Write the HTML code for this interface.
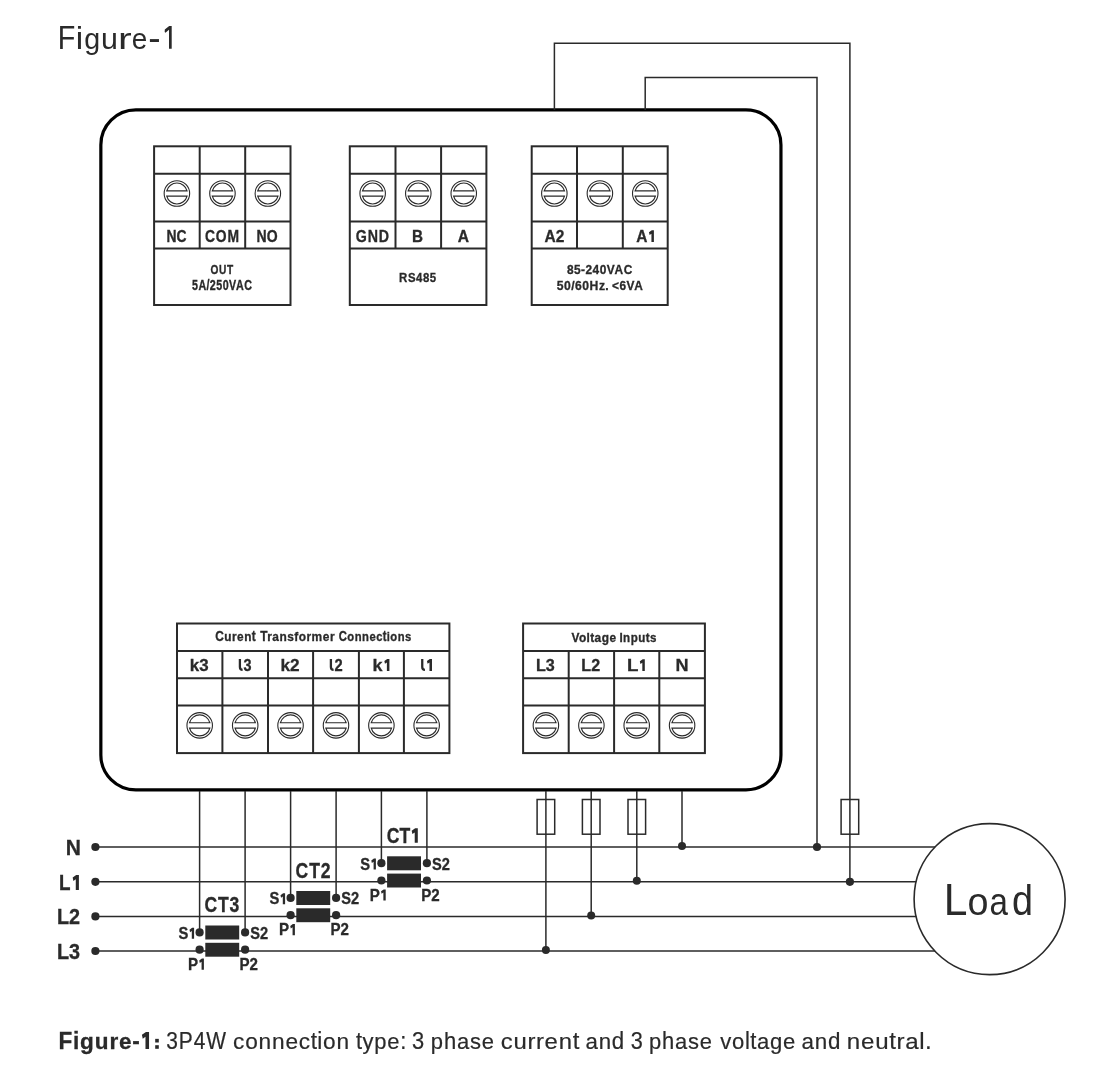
<!DOCTYPE html>
<html><head><meta charset="utf-8"><title>Figure-1</title>
<style>html,body{margin:0;padding:0;background:#fff;width:1106px;height:1088px;overflow:hidden}
svg{position:absolute;left:0;top:0;display:block;will-change:transform}
text{font-family:"Liberation Sans",sans-serif}</style></head>
<body><svg width="1106" height="1088" viewBox="0 0 1106 1088">
<rect x="100.85" y="109.9" width="680.1" height="680.0" rx="35" ry="35" fill="none" stroke="#000" stroke-width="3.2"/>
<rect x="154.1" y="146.3" width="136.40" height="158.70" fill="none" stroke="#2a2a2a" stroke-width="2.0"/>
<line x1="154.1" y1="173.7" x2="290.5" y2="173.7" stroke="#2a2a2a" stroke-width="2.0"/>
<line x1="154.1" y1="221.4" x2="290.5" y2="221.4" stroke="#2a2a2a" stroke-width="2.0"/>
<line x1="154.1" y1="248.6" x2="290.5" y2="248.6" stroke="#2a2a2a" stroke-width="2.0"/>
<line x1="199.7" y1="146.3" x2="199.7" y2="248.6" stroke="#2a2a2a" stroke-width="2.0"/>
<line x1="245.2" y1="146.3" x2="245.2" y2="248.6" stroke="#2a2a2a" stroke-width="2.0"/>
<circle cx="176.90" cy="193.50" r="12.75" fill="none" stroke="#2a2a2a" stroke-width="1.1"/><path d="M166.74 190.85A10.5 10.5 0 0 1 187.06 190.85ZM166.74 196.15A10.5 10.5 0 0 0 187.06 196.15Z" fill="none" stroke="#2a2a2a" stroke-width="1.15"/>
<circle cx="222.45" cy="193.50" r="12.75" fill="none" stroke="#2a2a2a" stroke-width="1.1"/><path d="M212.29 190.85A10.5 10.5 0 0 1 232.61 190.85ZM212.29 196.15A10.5 10.5 0 0 0 232.61 196.15Z" fill="none" stroke="#2a2a2a" stroke-width="1.15"/>
<circle cx="267.85" cy="193.50" r="12.75" fill="none" stroke="#2a2a2a" stroke-width="1.1"/><path d="M257.69 190.85A10.5 10.5 0 0 1 278.01 190.85ZM257.69 196.15A10.5 10.5 0 0 0 278.01 196.15Z" fill="none" stroke="#2a2a2a" stroke-width="1.15"/>
<rect x="349.8" y="146.3" width="136.60" height="158.70" fill="none" stroke="#2a2a2a" stroke-width="2.0"/>
<line x1="349.8" y1="173.7" x2="486.4" y2="173.7" stroke="#2a2a2a" stroke-width="2.0"/>
<line x1="349.8" y1="221.4" x2="486.4" y2="221.4" stroke="#2a2a2a" stroke-width="2.0"/>
<line x1="349.8" y1="248.6" x2="486.4" y2="248.6" stroke="#2a2a2a" stroke-width="2.0"/>
<line x1="395.5" y1="146.3" x2="395.5" y2="248.6" stroke="#2a2a2a" stroke-width="2.0"/>
<line x1="441.1" y1="146.3" x2="441.1" y2="248.6" stroke="#2a2a2a" stroke-width="2.0"/>
<circle cx="372.65" cy="193.50" r="12.75" fill="none" stroke="#2a2a2a" stroke-width="1.1"/><path d="M362.49 190.85A10.5 10.5 0 0 1 382.81 190.85ZM362.49 196.15A10.5 10.5 0 0 0 382.81 196.15Z" fill="none" stroke="#2a2a2a" stroke-width="1.15"/>
<circle cx="418.30" cy="193.50" r="12.75" fill="none" stroke="#2a2a2a" stroke-width="1.1"/><path d="M408.14 190.85A10.5 10.5 0 0 1 428.46 190.85ZM408.14 196.15A10.5 10.5 0 0 0 428.46 196.15Z" fill="none" stroke="#2a2a2a" stroke-width="1.15"/>
<circle cx="463.75" cy="193.50" r="12.75" fill="none" stroke="#2a2a2a" stroke-width="1.1"/><path d="M453.59 190.85A10.5 10.5 0 0 1 473.91 190.85ZM453.59 196.15A10.5 10.5 0 0 0 473.91 196.15Z" fill="none" stroke="#2a2a2a" stroke-width="1.15"/>
<rect x="531.7" y="146.3" width="136.00" height="158.70" fill="none" stroke="#2a2a2a" stroke-width="2.0"/>
<line x1="531.7" y1="173.7" x2="667.7" y2="173.7" stroke="#2a2a2a" stroke-width="2.0"/>
<line x1="531.7" y1="221.4" x2="667.7" y2="221.4" stroke="#2a2a2a" stroke-width="2.0"/>
<line x1="531.7" y1="248.6" x2="667.7" y2="248.6" stroke="#2a2a2a" stroke-width="2.0"/>
<line x1="577.0" y1="146.3" x2="577.0" y2="248.6" stroke="#2a2a2a" stroke-width="2.0"/>
<line x1="622.8" y1="146.3" x2="622.8" y2="248.6" stroke="#2a2a2a" stroke-width="2.0"/>
<circle cx="554.35" cy="193.50" r="12.75" fill="none" stroke="#2a2a2a" stroke-width="1.1"/><path d="M544.19 190.85A10.5 10.5 0 0 1 564.51 190.85ZM544.19 196.15A10.5 10.5 0 0 0 564.51 196.15Z" fill="none" stroke="#2a2a2a" stroke-width="1.15"/>
<circle cx="599.90" cy="193.50" r="12.75" fill="none" stroke="#2a2a2a" stroke-width="1.1"/><path d="M589.74 190.85A10.5 10.5 0 0 1 610.06 190.85ZM589.74 196.15A10.5 10.5 0 0 0 610.06 196.15Z" fill="none" stroke="#2a2a2a" stroke-width="1.15"/>
<circle cx="645.25" cy="193.50" r="12.75" fill="none" stroke="#2a2a2a" stroke-width="1.1"/><path d="M635.09 190.85A10.5 10.5 0 0 1 655.41 190.85ZM635.09 196.15A10.5 10.5 0 0 0 655.41 196.15Z" fill="none" stroke="#2a2a2a" stroke-width="1.15"/>
<rect x="177.0" y="623.5" width="272.40" height="129.60" fill="none" stroke="#2a2a2a" stroke-width="2.0"/>
<line x1="177.0" y1="651.0" x2="449.4" y2="651.0" stroke="#2a2a2a" stroke-width="2.0"/>
<line x1="177.0" y1="678.2" x2="449.4" y2="678.2" stroke="#2a2a2a" stroke-width="2.0"/>
<line x1="177.0" y1="705.6" x2="449.4" y2="705.6" stroke="#2a2a2a" stroke-width="2.0"/>
<line x1="222.4" y1="651.0" x2="222.4" y2="753.1" stroke="#2a2a2a" stroke-width="2.0"/>
<line x1="268.0" y1="651.0" x2="268.0" y2="753.1" stroke="#2a2a2a" stroke-width="2.0"/>
<line x1="313.1" y1="651.0" x2="313.1" y2="753.1" stroke="#2a2a2a" stroke-width="2.0"/>
<line x1="358.9" y1="651.0" x2="358.9" y2="753.1" stroke="#2a2a2a" stroke-width="2.0"/>
<line x1="403.9" y1="651.0" x2="403.9" y2="753.1" stroke="#2a2a2a" stroke-width="2.0"/>
<circle cx="199.70" cy="725.40" r="12.75" fill="none" stroke="#2a2a2a" stroke-width="1.1"/><path d="M189.54 722.75A10.5 10.5 0 0 1 209.86 722.75ZM189.54 728.05A10.5 10.5 0 0 0 209.86 728.05Z" fill="none" stroke="#2a2a2a" stroke-width="1.15"/>
<circle cx="245.20" cy="725.40" r="12.75" fill="none" stroke="#2a2a2a" stroke-width="1.1"/><path d="M235.04 722.75A10.5 10.5 0 0 1 255.36 722.75ZM235.04 728.05A10.5 10.5 0 0 0 255.36 728.05Z" fill="none" stroke="#2a2a2a" stroke-width="1.15"/>
<circle cx="290.55" cy="725.40" r="12.75" fill="none" stroke="#2a2a2a" stroke-width="1.1"/><path d="M280.39 722.75A10.5 10.5 0 0 1 300.71 722.75ZM280.39 728.05A10.5 10.5 0 0 0 300.71 728.05Z" fill="none" stroke="#2a2a2a" stroke-width="1.15"/>
<circle cx="336.00" cy="725.40" r="12.75" fill="none" stroke="#2a2a2a" stroke-width="1.1"/><path d="M325.84 722.75A10.5 10.5 0 0 1 346.16 722.75ZM325.84 728.05A10.5 10.5 0 0 0 346.16 728.05Z" fill="none" stroke="#2a2a2a" stroke-width="1.15"/>
<circle cx="381.40" cy="725.40" r="12.75" fill="none" stroke="#2a2a2a" stroke-width="1.1"/><path d="M371.24 722.75A10.5 10.5 0 0 1 391.56 722.75ZM371.24 728.05A10.5 10.5 0 0 0 391.56 728.05Z" fill="none" stroke="#2a2a2a" stroke-width="1.15"/>
<circle cx="426.65" cy="725.40" r="12.75" fill="none" stroke="#2a2a2a" stroke-width="1.1"/><path d="M416.49 722.75A10.5 10.5 0 0 1 436.81 722.75ZM416.49 728.05A10.5 10.5 0 0 0 436.81 728.05Z" fill="none" stroke="#2a2a2a" stroke-width="1.15"/>
<rect x="523.1" y="623.5" width="181.80" height="129.60" fill="none" stroke="#2a2a2a" stroke-width="2.0"/>
<line x1="523.1" y1="651.0" x2="704.9" y2="651.0" stroke="#2a2a2a" stroke-width="2.0"/>
<line x1="523.1" y1="678.2" x2="704.9" y2="678.2" stroke="#2a2a2a" stroke-width="2.0"/>
<line x1="523.1" y1="705.6" x2="704.9" y2="705.6" stroke="#2a2a2a" stroke-width="2.0"/>
<line x1="568.7" y1="651.0" x2="568.7" y2="753.1" stroke="#2a2a2a" stroke-width="2.0"/>
<line x1="614.1" y1="651.0" x2="614.1" y2="753.1" stroke="#2a2a2a" stroke-width="2.0"/>
<line x1="659.3" y1="651.0" x2="659.3" y2="753.1" stroke="#2a2a2a" stroke-width="2.0"/>
<circle cx="545.90" cy="725.40" r="12.75" fill="none" stroke="#2a2a2a" stroke-width="1.1"/><path d="M535.74 722.75A10.5 10.5 0 0 1 556.06 722.75ZM535.74 728.05A10.5 10.5 0 0 0 556.06 728.05Z" fill="none" stroke="#2a2a2a" stroke-width="1.15"/>
<circle cx="591.40" cy="725.40" r="12.75" fill="none" stroke="#2a2a2a" stroke-width="1.1"/><path d="M581.24 722.75A10.5 10.5 0 0 1 601.56 722.75ZM581.24 728.05A10.5 10.5 0 0 0 601.56 728.05Z" fill="none" stroke="#2a2a2a" stroke-width="1.15"/>
<circle cx="636.70" cy="725.40" r="12.75" fill="none" stroke="#2a2a2a" stroke-width="1.1"/><path d="M626.54 722.75A10.5 10.5 0 0 1 646.86 722.75ZM626.54 728.05A10.5 10.5 0 0 0 646.86 728.05Z" fill="none" stroke="#2a2a2a" stroke-width="1.15"/>
<circle cx="682.10" cy="725.40" r="12.75" fill="none" stroke="#2a2a2a" stroke-width="1.1"/><path d="M671.94 722.75A10.5 10.5 0 0 1 692.26 722.75ZM671.94 728.05A10.5 10.5 0 0 0 692.26 728.05Z" fill="none" stroke="#2a2a2a" stroke-width="1.15"/>
<polyline points="554.4,110 554.4,43.2 849.9,43.2 849.9,881.8" fill="none" stroke="#2a2a2a" stroke-width="1.5"/>
<polyline points="645.2,110 645.2,77.4 817.0,77.4 817.0,847.0" fill="none" stroke="#2a2a2a" stroke-width="1.5"/>
<rect x="841.10" y="799.5" width="17.6" height="34.70" fill="none" stroke="#2a2a2a" stroke-width="1.5"/>
<circle cx="849.9" cy="881.8" r="4.1" fill="#2a2a2a"/>
<circle cx="817.0" cy="847.0" r="4.1" fill="#2a2a2a"/>
<line x1="95.4" y1="847.0" x2="990" y2="847.0" stroke="#2a2a2a" stroke-width="1.5"/>
<circle cx="95.4" cy="847.0" r="4.1" fill="#2a2a2a"/>
<line x1="95.4" y1="881.8" x2="990" y2="881.8" stroke="#2a2a2a" stroke-width="1.5"/>
<circle cx="95.4" cy="881.8" r="4.1" fill="#2a2a2a"/>
<line x1="95.4" y1="916.4" x2="990" y2="916.4" stroke="#2a2a2a" stroke-width="1.5"/>
<circle cx="95.4" cy="916.4" r="4.1" fill="#2a2a2a"/>
<line x1="95.4" y1="951.0" x2="990" y2="951.0" stroke="#2a2a2a" stroke-width="1.5"/>
<circle cx="95.4" cy="951.0" r="4.1" fill="#2a2a2a"/>
<line x1="545.9" y1="791" x2="545.9" y2="951.0" stroke="#2a2a2a" stroke-width="1.5"/>
<rect x="537.10" y="799.5" width="17.6" height="34.70" fill="none" stroke="#2a2a2a" stroke-width="1.5"/>
<circle cx="545.9" cy="950.0" r="4.0" fill="#2a2a2a"/>
<line x1="591.2" y1="791" x2="591.2" y2="916.4" stroke="#2a2a2a" stroke-width="1.5"/>
<rect x="582.40" y="799.5" width="17.6" height="34.70" fill="none" stroke="#2a2a2a" stroke-width="1.5"/>
<circle cx="591.2" cy="915.4" r="4.0" fill="#2a2a2a"/>
<line x1="636.8" y1="791" x2="636.8" y2="881.8" stroke="#2a2a2a" stroke-width="1.5"/>
<rect x="628.00" y="799.5" width="17.6" height="34.70" fill="none" stroke="#2a2a2a" stroke-width="1.5"/>
<circle cx="636.8" cy="880.8" r="4.0" fill="#2a2a2a"/>
<line x1="682.0" y1="791" x2="682.0" y2="847.0" stroke="#2a2a2a" stroke-width="1.5"/>
<circle cx="682.0" cy="846.0" r="4.0" fill="#2a2a2a"/>
<line x1="381.4" y1="791" x2="381.4" y2="863.1999999999999" stroke="#2a2a2a" stroke-width="1.5"/>
<line x1="426.9" y1="791" x2="426.9" y2="863.1999999999999" stroke="#2a2a2a" stroke-width="1.5"/>
<circle cx="381.4" cy="863.1999999999999" r="4.1" fill="#2a2a2a"/>
<circle cx="426.9" cy="863.1999999999999" r="4.1" fill="#2a2a2a"/>
<circle cx="381.4" cy="880.5" r="4.1" fill="#2a2a2a"/>
<circle cx="426.9" cy="880.5" r="4.1" fill="#2a2a2a"/>
<rect x="387.10" y="856.30" width="33.9" height="14.0" fill="#2a2a2a"/>
<rect x="387.10" y="873.60" width="33.9" height="13.9" fill="#2a2a2a"/>
<line x1="290.6" y1="791" x2="290.6" y2="897.9" stroke="#2a2a2a" stroke-width="1.5"/>
<line x1="336.1" y1="791" x2="336.1" y2="897.9" stroke="#2a2a2a" stroke-width="1.5"/>
<circle cx="290.6" cy="897.9" r="4.1" fill="#2a2a2a"/>
<circle cx="336.1" cy="897.9" r="4.1" fill="#2a2a2a"/>
<circle cx="290.6" cy="915.2" r="4.1" fill="#2a2a2a"/>
<circle cx="336.1" cy="915.2" r="4.1" fill="#2a2a2a"/>
<rect x="296.30" y="891.00" width="33.9" height="14.0" fill="#2a2a2a"/>
<rect x="296.30" y="908.30" width="33.9" height="13.9" fill="#2a2a2a"/>
<line x1="199.6" y1="791" x2="199.6" y2="932.4" stroke="#2a2a2a" stroke-width="1.5"/>
<line x1="245.1" y1="791" x2="245.1" y2="932.4" stroke="#2a2a2a" stroke-width="1.5"/>
<circle cx="199.6" cy="932.4" r="4.1" fill="#2a2a2a"/>
<circle cx="245.1" cy="932.4" r="4.1" fill="#2a2a2a"/>
<circle cx="199.6" cy="949.7" r="4.1" fill="#2a2a2a"/>
<circle cx="245.1" cy="949.7" r="4.1" fill="#2a2a2a"/>
<rect x="205.30" y="925.50" width="33.9" height="14.0" fill="#2a2a2a"/>
<rect x="205.30" y="942.80" width="33.9" height="13.9" fill="#2a2a2a"/>
<circle cx="989.6" cy="899.1" r="75.5" fill="#fff" stroke="#2a2a2a" stroke-width="1.6"/>
<text transform="matrix(0.13881 0 0 0.16957 166.428 242.000)" font-size="100" font-weight="700" fill="#2a2a2a" stroke="#2a2a2a" stroke-width="1.96">NC</text>
<text transform="matrix(0.13880 0 0 0.16957 205.045 242.000)" font-size="100" font-weight="700" fill="#2a2a2a" stroke="#2a2a2a" stroke-width="1.96">C</text>
<text transform="matrix(0.13880 0 0 0.16957 215.842 242.000)" font-size="100" font-weight="700" fill="#2a2a2a" stroke="#2a2a2a" stroke-width="1.96">O</text>
<text transform="matrix(0.13880 0 0 0.16957 227.482 242.000)" font-size="100" font-weight="700" fill="#2a2a2a" stroke="#2a2a2a" stroke-width="1.96">M</text>
<text transform="matrix(0.14029 0 0 0.16957 256.518 242.000)" font-size="100" font-weight="700" fill="#2a2a2a" stroke="#2a2a2a" stroke-width="1.95">NO</text>
<text transform="matrix(0.14206 0 0 0.16957 355.832 242.000)" font-size="100" font-weight="700" fill="#2a2a2a" stroke="#2a2a2a" stroke-width="1.93">G</text>
<text transform="matrix(0.14206 0 0 0.16957 367.695 242.000)" font-size="100" font-weight="700" fill="#2a2a2a" stroke="#2a2a2a" stroke-width="1.93">N</text>
<text transform="matrix(0.14206 0 0 0.16957 378.740 242.000)" font-size="100" font-weight="700" fill="#2a2a2a" stroke="#2a2a2a" stroke-width="1.93">D</text>
<text transform="matrix(0.15246 0 0 0.16957 411.933 242.000)" font-size="100" font-weight="700" fill="#2a2a2a" stroke="#2a2a2a" stroke-width="1.87">B</text>
<text transform="matrix(0.15606 0 0 0.16957 457.832 242.000)" font-size="100" font-weight="700" fill="#2a2a2a" stroke="#2a2a2a" stroke-width="1.84">A</text>
<text transform="matrix(0.15496 0 0 0.16957 544.535 242.000)" font-size="100" font-weight="700" fill="#2a2a2a" stroke="#2a2a2a" stroke-width="1.85">A2</text>
<text transform="matrix(0.15455 0 0 0.16957 636.336 242.000)" font-size="100" font-weight="700" fill="#2a2a2a" stroke="#2a2a2a" stroke-width="1.85">A</text>
<text transform="matrix(0.10154 0 0 0.13478 210.594 274.000)" font-size="100" font-weight="700" fill="#2a2a2a" stroke="#2a2a2a" stroke-width="2.56">O</text>
<text transform="matrix(0.10154 0 0 0.13478 219.065 274.000)" font-size="100" font-weight="700" fill="#2a2a2a" stroke="#2a2a2a" stroke-width="2.56">U</text>
<text transform="matrix(0.10154 0 0 0.13478 226.908 274.000)" font-size="100" font-weight="700" fill="#2a2a2a" stroke="#2a2a2a" stroke-width="2.56">T</text>
<text transform="matrix(0.10697 0 0 0.14058 191.979 290.300)" font-size="100" font-weight="700" fill="#2a2a2a" stroke="#2a2a2a" stroke-width="2.45">5</text>
<text transform="matrix(0.10697 0 0 0.14058 198.440 290.300)" font-size="100" font-weight="700" fill="#2a2a2a" stroke="#2a2a2a" stroke-width="2.45">A</text>
<text transform="matrix(0.10697 0 0 0.14058 206.570 290.300)" font-size="100" font-weight="700" fill="#2a2a2a" stroke="#2a2a2a" stroke-width="2.45">/</text>
<text transform="matrix(0.10697 0 0 0.14058 209.874 290.300)" font-size="100" font-weight="700" fill="#2a2a2a" stroke="#2a2a2a" stroke-width="2.45">2</text>
<text transform="matrix(0.10697 0 0 0.14058 216.274 290.300)" font-size="100" font-weight="700" fill="#2a2a2a" stroke="#2a2a2a" stroke-width="2.45">5</text>
<text transform="matrix(0.10697 0 0 0.14058 222.671 290.300)" font-size="100" font-weight="700" fill="#2a2a2a" stroke="#2a2a2a" stroke-width="2.45">0</text>
<text transform="matrix(0.10697 0 0 0.14058 229.113 290.300)" font-size="100" font-weight="700" fill="#2a2a2a" stroke="#2a2a2a" stroke-width="2.45">V</text>
<text transform="matrix(0.10697 0 0 0.14058 235.952 290.300)" font-size="100" font-weight="700" fill="#2a2a2a" stroke="#2a2a2a" stroke-width="2.45">A</text>
<text transform="matrix(0.10697 0 0 0.14058 244.265 290.300)" font-size="100" font-weight="700" fill="#2a2a2a" stroke="#2a2a2a" stroke-width="2.45">C</text>
<text transform="matrix(0.11440 0 0 0.13623 399.056 282.200)" font-size="100" font-weight="700" fill="#2a2a2a" stroke="#2a2a2a" stroke-width="2.40">R</text>
<text transform="matrix(0.11440 0 0 0.13623 407.893 282.200)" font-size="100" font-weight="700" fill="#2a2a2a" stroke="#2a2a2a" stroke-width="2.40">S</text>
<text transform="matrix(0.11440 0 0 0.13623 416.057 282.200)" font-size="100" font-weight="700" fill="#2a2a2a" stroke="#2a2a2a" stroke-width="2.40">4</text>
<text transform="matrix(0.11440 0 0 0.13623 422.895 282.200)" font-size="100" font-weight="700" fill="#2a2a2a" stroke="#2a2a2a" stroke-width="2.40">8</text>
<text transform="matrix(0.11440 0 0 0.13623 429.737 282.200)" font-size="100" font-weight="700" fill="#2a2a2a" stroke="#2a2a2a" stroke-width="2.40">5</text>
<text transform="matrix(0.11907 0 0 0.13623 566.943 273.900)" font-size="100" font-weight="700" fill="#2a2a2a" stroke="#2a2a2a" stroke-width="2.36">8</text>
<text transform="matrix(0.11907 0 0 0.13623 574.065 273.900)" font-size="100" font-weight="700" fill="#2a2a2a" stroke="#2a2a2a" stroke-width="2.36">5</text>
<text transform="matrix(0.11907 0 0 0.13623 581.084 273.900)" font-size="100" font-weight="700" fill="#2a2a2a" stroke="#2a2a2a" stroke-width="2.36">-</text>
<text transform="matrix(0.11907 0 0 0.13623 585.445 273.900)" font-size="100" font-weight="700" fill="#2a2a2a" stroke="#2a2a2a" stroke-width="2.36">2</text>
<text transform="matrix(0.11907 0 0 0.13623 592.572 273.900)" font-size="100" font-weight="700" fill="#2a2a2a" stroke="#2a2a2a" stroke-width="2.36">4</text>
<text transform="matrix(0.11907 0 0 0.13623 599.687 273.900)" font-size="100" font-weight="700" fill="#2a2a2a" stroke="#2a2a2a" stroke-width="2.36">0</text>
<text transform="matrix(0.11907 0 0 0.13623 606.861 273.900)" font-size="100" font-weight="700" fill="#2a2a2a" stroke="#2a2a2a" stroke-width="2.36">V</text>
<text transform="matrix(0.11907 0 0 0.13623 614.471 273.900)" font-size="100" font-weight="700" fill="#2a2a2a" stroke="#2a2a2a" stroke-width="2.36">A</text>
<text transform="matrix(0.11907 0 0 0.13623 623.725 273.900)" font-size="100" font-weight="700" fill="#2a2a2a" stroke="#2a2a2a" stroke-width="2.36">C</text>
<text transform="matrix(0.12170 0 0 0.13333 556.735 289.800)" font-size="100" font-weight="700" fill="#2a2a2a" stroke="#2a2a2a" stroke-width="2.36">5</text>
<text transform="matrix(0.12170 0 0 0.13333 564.009 289.800)" font-size="100" font-weight="700" fill="#2a2a2a" stroke="#2a2a2a" stroke-width="2.36">0</text>
<text transform="matrix(0.12170 0 0 0.13333 571.160 289.800)" font-size="100" font-weight="700" fill="#2a2a2a" stroke="#2a2a2a" stroke-width="2.36">/</text>
<text transform="matrix(0.12170 0 0 0.13333 574.922 289.800)" font-size="100" font-weight="700" fill="#2a2a2a" stroke="#2a2a2a" stroke-width="2.36">6</text>
<text transform="matrix(0.12170 0 0 0.13333 582.200 289.800)" font-size="100" font-weight="700" fill="#2a2a2a" stroke="#2a2a2a" stroke-width="2.36">0</text>
<text transform="matrix(0.12170 0 0 0.13333 589.553 289.800)" font-size="100" font-weight="700" fill="#2a2a2a" stroke="#2a2a2a" stroke-width="2.36">H</text>
<text transform="matrix(0.12170 0 0 0.11867 598.905 289.800)" font-size="100" font-weight="700" fill="#2a2a2a" stroke="#2a2a2a" stroke-width="2.50">z</text>
<text transform="matrix(0.12170 0 0 0.13333 605.344 289.800)" font-size="100" font-weight="700" fill="#2a2a2a" stroke="#2a2a2a" stroke-width="2.36">.</text>
<text transform="matrix(0.11889 0 0 0.13333 611.924 289.800)" font-size="100" font-weight="700" fill="#2a2a2a" stroke="#2a2a2a" stroke-width="2.38">&lt;</text>
<text transform="matrix(0.11889 0 0 0.13333 619.376 289.800)" font-size="100" font-weight="700" fill="#2a2a2a" stroke="#2a2a2a" stroke-width="2.38">6</text>
<text transform="matrix(0.11889 0 0 0.13333 626.536 289.800)" font-size="100" font-weight="700" fill="#2a2a2a" stroke="#2a2a2a" stroke-width="2.38">V</text>
<text transform="matrix(0.11889 0 0 0.13333 634.137 289.800)" font-size="100" font-weight="700" fill="#2a2a2a" stroke="#2a2a2a" stroke-width="2.38">A</text>
<text transform="matrix(0.11835 0 0 0.14058 215.227 641.200)" font-size="100" font-weight="700" fill="#2a2a2a" stroke="#2a2a2a" stroke-width="2.33">C</text>
<text transform="matrix(0.11835 0 0 0.12512 224.357 641.200)" font-size="100" font-weight="700" fill="#2a2a2a" stroke="#2a2a2a" stroke-width="2.47">u</text>
<text transform="matrix(0.11835 0 0 0.12512 232.059 641.200)" font-size="100" font-weight="700" fill="#2a2a2a" stroke="#2a2a2a" stroke-width="2.47">r</text>
<text transform="matrix(0.11835 0 0 0.12512 237.063 641.200)" font-size="100" font-weight="700" fill="#2a2a2a" stroke="#2a2a2a" stroke-width="2.47">e</text>
<text transform="matrix(0.11835 0 0 0.12512 244.167 641.200)" font-size="100" font-weight="700" fill="#2a2a2a" stroke="#2a2a2a" stroke-width="2.47">n</text>
<text transform="matrix(0.11835 0 0 0.14058 251.813 641.200)" font-size="100" font-weight="700" fill="#2a2a2a" stroke="#2a2a2a" stroke-width="2.33">t</text>
<text transform="matrix(0.11923 0 0 0.14058 260.181 641.200)" font-size="100" font-weight="700" fill="#2a2a2a" stroke="#2a2a2a" stroke-width="2.32">T</text>
<text transform="matrix(0.11923 0 0 0.12512 267.228 641.200)" font-size="100" font-weight="700" fill="#2a2a2a" stroke="#2a2a2a" stroke-width="2.46">r</text>
<text transform="matrix(0.11923 0 0 0.12512 272.283 641.200)" font-size="100" font-weight="700" fill="#2a2a2a" stroke="#2a2a2a" stroke-width="2.46">a</text>
<text transform="matrix(0.11923 0 0 0.12512 279.426 641.200)" font-size="100" font-weight="700" fill="#2a2a2a" stroke="#2a2a2a" stroke-width="2.46">n</text>
<text transform="matrix(0.11923 0 0 0.12512 287.227 641.200)" font-size="100" font-weight="700" fill="#2a2a2a" stroke="#2a2a2a" stroke-width="2.46">s</text>
<text transform="matrix(0.11923 0 0 0.13383 294.269 641.200)" font-size="100" font-weight="700" fill="#2a2a2a" stroke="#2a2a2a" stroke-width="2.37">f</text>
<text transform="matrix(0.11923 0 0 0.12512 298.655 641.200)" font-size="100" font-weight="700" fill="#2a2a2a" stroke="#2a2a2a" stroke-width="2.46">o</text>
<text transform="matrix(0.11923 0 0 0.12512 306.409 641.200)" font-size="100" font-weight="700" fill="#2a2a2a" stroke="#2a2a2a" stroke-width="2.46">r</text>
<text transform="matrix(0.11923 0 0 0.12512 311.601 641.200)" font-size="100" font-weight="700" fill="#2a2a2a" stroke="#2a2a2a" stroke-width="2.46">m</text>
<text transform="matrix(0.11923 0 0 0.12512 322.851 641.200)" font-size="100" font-weight="700" fill="#2a2a2a" stroke="#2a2a2a" stroke-width="2.46">e</text>
<text transform="matrix(0.11923 0 0 0.12512 329.929 641.200)" font-size="100" font-weight="700" fill="#2a2a2a" stroke="#2a2a2a" stroke-width="2.46">r</text>
<text transform="matrix(0.11252 0 0 0.14058 338.650 641.200)" font-size="100" font-weight="700" fill="#2a2a2a" stroke="#2a2a2a" stroke-width="2.39">C</text>
<text transform="matrix(0.11252 0 0 0.12512 347.332 641.200)" font-size="100" font-weight="700" fill="#2a2a2a" stroke="#2a2a2a" stroke-width="2.53">o</text>
<text transform="matrix(0.11252 0 0 0.12512 354.726 641.200)" font-size="100" font-weight="700" fill="#2a2a2a" stroke="#2a2a2a" stroke-width="2.53">n</text>
<text transform="matrix(0.11252 0 0 0.12512 362.115 641.200)" font-size="100" font-weight="700" fill="#2a2a2a" stroke="#2a2a2a" stroke-width="2.53">n</text>
<text transform="matrix(0.11252 0 0 0.12512 369.484 641.200)" font-size="100" font-weight="700" fill="#2a2a2a" stroke="#2a2a2a" stroke-width="2.53">e</text>
<text transform="matrix(0.11252 0 0 0.12512 376.214 641.200)" font-size="100" font-weight="700" fill="#2a2a2a" stroke="#2a2a2a" stroke-width="2.53">c</text>
<text transform="matrix(0.11252 0 0 0.14058 382.842 641.200)" font-size="100" font-weight="700" fill="#2a2a2a" stroke="#2a2a2a" stroke-width="2.39">t</text>
<text transform="matrix(0.11252 0 0 0.13383 386.849 641.200)" font-size="100" font-weight="700" fill="#2a2a2a" stroke="#2a2a2a" stroke-width="2.44">i</text>
<text transform="matrix(0.11252 0 0 0.12512 390.352 641.200)" font-size="100" font-weight="700" fill="#2a2a2a" stroke="#2a2a2a" stroke-width="2.53">o</text>
<text transform="matrix(0.11252 0 0 0.12512 397.743 641.200)" font-size="100" font-weight="700" fill="#2a2a2a" stroke="#2a2a2a" stroke-width="2.53">n</text>
<text transform="matrix(0.11252 0 0 0.12512 405.105 641.200)" font-size="100" font-weight="700" fill="#2a2a2a" stroke="#2a2a2a" stroke-width="2.53">s</text>
<text transform="matrix(0.11881 0 0 0.13478 571.381 641.900)" font-size="100" font-weight="700" fill="#2a2a2a" stroke="#2a2a2a" stroke-width="2.37">V</text>
<text transform="matrix(0.11881 0 0 0.11996 578.926 641.900)" font-size="100" font-weight="700" fill="#2a2a2a" stroke="#2a2a2a" stroke-width="2.51">o</text>
<text transform="matrix(0.11881 0 0 0.12831 586.581 641.900)" font-size="100" font-weight="700" fill="#2a2a2a" stroke="#2a2a2a" stroke-width="2.43">l</text>
<text transform="matrix(0.11881 0 0 0.13478 590.155 641.900)" font-size="100" font-weight="700" fill="#2a2a2a" stroke="#2a2a2a" stroke-width="2.37">t</text>
<text transform="matrix(0.11881 0 0 0.11996 594.525 641.900)" font-size="100" font-weight="700" fill="#2a2a2a" stroke="#2a2a2a" stroke-width="2.51">a</text>
<text transform="matrix(0.11881 0 0 0.11996 601.628 641.900)" font-size="100" font-weight="700" fill="#2a2a2a" stroke="#2a2a2a" stroke-width="2.51">g</text>
<text transform="matrix(0.11881 0 0 0.11996 609.422 641.900)" font-size="100" font-weight="700" fill="#2a2a2a" stroke="#2a2a2a" stroke-width="2.51">e</text>
<text transform="matrix(0.11563 0 0 0.13478 619.448 641.900)" font-size="100" font-weight="700" fill="#2a2a2a" stroke="#2a2a2a" stroke-width="2.40">I</text>
<text transform="matrix(0.11563 0 0 0.11996 623.050 641.900)" font-size="100" font-weight="700" fill="#2a2a2a" stroke="#2a2a2a" stroke-width="2.55">n</text>
<text transform="matrix(0.11563 0 0 0.11996 630.653 641.900)" font-size="100" font-weight="700" fill="#2a2a2a" stroke="#2a2a2a" stroke-width="2.55">p</text>
<text transform="matrix(0.11563 0 0 0.11996 638.234 641.900)" font-size="100" font-weight="700" fill="#2a2a2a" stroke="#2a2a2a" stroke-width="2.55">u</text>
<text transform="matrix(0.11563 0 0 0.13478 645.710 641.900)" font-size="100" font-weight="700" fill="#2a2a2a" stroke="#2a2a2a" stroke-width="2.40">t</text>
<text transform="matrix(0.11563 0 0 0.11996 649.945 641.900)" font-size="100" font-weight="700" fill="#2a2a2a" stroke="#2a2a2a" stroke-width="2.55">s</text>
<text transform="matrix(0.16900 0 0 0.16438 189.817 671.000)" font-size="100" font-weight="700" fill="#2a2a2a" stroke="#2a2a2a" stroke-width="1.80">k3</text>
<text transform="matrix(0.17200 0 0 0.16438 280.496 671.000)" font-size="100" font-weight="700" fill="#2a2a2a" stroke="#2a2a2a" stroke-width="1.78">k2</text>
<text transform="matrix(0.18000 0 0 0.16438 372.540 671.000)" font-size="100" font-weight="700" fill="#2a2a2a" stroke="#2a2a2a" stroke-width="1.74">k</text>
<text transform="matrix(0.14400 0 0 0.17391 243.612 671.000)" font-size="100" font-weight="700" fill="#2a2a2a" stroke="#2a2a2a" stroke-width="1.90">3</text>
<text transform="matrix(0.14694 0 0 0.17391 334.459 671.000)" font-size="100" font-weight="700" fill="#2a2a2a" stroke="#2a2a2a" stroke-width="1.88">2</text>
<text transform="matrix(0.16132 0 0 0.17101 535.971 671.100)" font-size="100" font-weight="700" fill="#2a2a2a" stroke="#2a2a2a" stroke-width="1.81">L3</text>
<text transform="matrix(0.16132 0 0 0.17101 581.371 671.100)" font-size="100" font-weight="700" fill="#2a2a2a" stroke="#2a2a2a" stroke-width="1.81">L2</text>
<text transform="matrix(0.18103 0 0 0.17101 675.533 671.100)" font-size="100" font-weight="700" fill="#2a2a2a" stroke="#2a2a2a" stroke-width="1.70">N</text>
<text transform="matrix(0.18737 0 0 0.17101 627.088 671.100)" font-size="100" font-weight="700" fill="#2a2a2a" stroke="#2a2a2a" stroke-width="1.68">L</text>
<text transform="matrix(0.21034 0 0 0.22319 65.728 855.300)" font-size="100" font-weight="700" fill="#2a2a2a" stroke="#2a2a2a" stroke-width="1.38">N</text>
<text transform="matrix(0.18863 0 0 0.21507 59.110 889.900)" font-size="100" font-weight="700" fill="#2a2a2a" stroke="#2a2a2a" stroke-width="1.49">L</text>
<text transform="matrix(0.19811 0 0 0.21884 57.013 924.100)" font-size="100" font-weight="700" fill="#2a2a2a" stroke="#2a2a2a" stroke-width="1.44">L2</text>
<text transform="matrix(0.19811 0 0 0.21739 57.013 959.000)" font-size="100" font-weight="700" fill="#2a2a2a" stroke="#2a2a2a" stroke-width="1.45">L3</text>
<text transform="matrix(0.17578 0 0 0.21159 386.697 842.800)" font-size="100" font-weight="700" fill="#2a2a2a" stroke="#2a2a2a" stroke-width="1.56">CT</text>
<text transform="matrix(0.14748 0 0 0.15870 360.258 869.550)" font-size="100" font-weight="700" fill="#2a2a2a" stroke="#2a2a2a" stroke-width="1.96">S</text>
<text transform="matrix(0.14609 0 0 0.15870 432.062 869.550)" font-size="100" font-weight="700" fill="#2a2a2a" stroke="#2a2a2a" stroke-width="1.97">S2</text>
<text transform="matrix(0.15111 0 0 0.16087 369.742 900.500)" font-size="100" font-weight="700" fill="#2a2a2a" stroke="#2a2a2a" stroke-width="1.92">P</text>
<text transform="matrix(0.15135 0 0 0.16087 421.241 900.500)" font-size="100" font-weight="700" fill="#2a2a2a" stroke="#2a2a2a" stroke-width="1.92">P2</text>
<text transform="matrix(0.17567 0 0 0.21159 295.597 877.600)" font-size="100" font-weight="700" fill="#2a2a2a" stroke="#2a2a2a" stroke-width="1.56">C</text>
<text transform="matrix(0.17567 0 0 0.21159 309.153 877.600)" font-size="100" font-weight="700" fill="#2a2a2a" stroke="#2a2a2a" stroke-width="1.56">T</text>
<text transform="matrix(0.17567 0 0 0.21159 320.653 877.600)" font-size="100" font-weight="700" fill="#2a2a2a" stroke="#2a2a2a" stroke-width="1.56">2</text>
<text transform="matrix(0.14748 0 0 0.15870 269.458 904.250)" font-size="100" font-weight="700" fill="#2a2a2a" stroke="#2a2a2a" stroke-width="1.96">S</text>
<text transform="matrix(0.14609 0 0 0.15870 341.262 904.250)" font-size="100" font-weight="700" fill="#2a2a2a" stroke="#2a2a2a" stroke-width="1.97">S2</text>
<text transform="matrix(0.15111 0 0 0.16087 278.942 935.200)" font-size="100" font-weight="700" fill="#2a2a2a" stroke="#2a2a2a" stroke-width="1.92">P</text>
<text transform="matrix(0.15135 0 0 0.16087 330.441 935.200)" font-size="100" font-weight="700" fill="#2a2a2a" stroke="#2a2a2a" stroke-width="1.92">P2</text>
<text transform="matrix(0.17522 0 0 0.21159 204.599 912.100)" font-size="100" font-weight="700" fill="#2a2a2a" stroke="#2a2a2a" stroke-width="1.56">C</text>
<text transform="matrix(0.17522 0 0 0.21159 218.121 912.100)" font-size="100" font-weight="700" fill="#2a2a2a" stroke="#2a2a2a" stroke-width="1.56">T</text>
<text transform="matrix(0.17522 0 0 0.21159 229.588 912.100)" font-size="100" font-weight="700" fill="#2a2a2a" stroke="#2a2a2a" stroke-width="1.56">3</text>
<text transform="matrix(0.14748 0 0 0.15870 178.458 938.750)" font-size="100" font-weight="700" fill="#2a2a2a" stroke="#2a2a2a" stroke-width="1.96">S</text>
<text transform="matrix(0.14609 0 0 0.15870 250.262 938.750)" font-size="100" font-weight="700" fill="#2a2a2a" stroke="#2a2a2a" stroke-width="1.97">S2</text>
<text transform="matrix(0.15111 0 0 0.16087 187.942 969.700)" font-size="100" font-weight="700" fill="#2a2a2a" stroke="#2a2a2a" stroke-width="1.92">P</text>
<text transform="matrix(0.15135 0 0 0.16087 239.441 969.700)" font-size="100" font-weight="700" fill="#2a2a2a" stroke="#2a2a2a" stroke-width="1.92">P2</text>
<text transform="matrix(0.22545 0 0 0.24638 58.435 1048.900)" font-size="100" font-weight="700" fill="#2a2a2a" stroke="#2a2a2a" stroke-width="1.27">F</text>
<text transform="matrix(0.22545 0 0 0.23455 72.931 1048.900)" font-size="100" font-weight="700" fill="#2a2a2a" stroke="#2a2a2a" stroke-width="1.30">i</text>
<text transform="matrix(0.22545 0 0 0.21928 79.929 1048.900)" font-size="100" font-weight="700" fill="#2a2a2a" stroke="#2a2a2a" stroke-width="1.35">g</text>
<text transform="matrix(0.22545 0 0 0.21928 94.752 1048.900)" font-size="100" font-weight="700" fill="#2a2a2a" stroke="#2a2a2a" stroke-width="1.35">u</text>
<text transform="matrix(0.22545 0 0 0.21928 109.422 1048.900)" font-size="100" font-weight="700" fill="#2a2a2a" stroke="#2a2a2a" stroke-width="1.35">r</text>
<text transform="matrix(0.22545 0 0 0.21928 118.956 1048.900)" font-size="100" font-weight="700" fill="#2a2a2a" stroke="#2a2a2a" stroke-width="1.35">e</text>
<text transform="matrix(0.22545 0 0 0.24638 132.249 1048.900)" font-size="100" font-weight="700" fill="#2a2a2a" stroke="#2a2a2a" stroke-width="1.27">-</text>
<text transform="matrix(0.20960 0 0 0.24638 166.362 1048.900)" font-size="100" font-weight="400" fill="#2a2a2a" stroke="#2a2a2a" stroke-width="0.88">3</text>
<text transform="matrix(0.20960 0 0 0.24638 178.858 1048.900)" font-size="100" font-weight="400" fill="#2a2a2a" stroke="#2a2a2a" stroke-width="0.88">P</text>
<text transform="matrix(0.20960 0 0 0.24638 193.634 1048.900)" font-size="100" font-weight="400" fill="#2a2a2a" stroke="#2a2a2a" stroke-width="0.88">4</text>
<text transform="matrix(0.20960 0 0 0.24638 206.298 1048.900)" font-size="100" font-weight="400" fill="#2a2a2a" stroke="#2a2a2a" stroke-width="0.88">W</text>
<text transform="matrix(0.22680 0 0 0.21928 233.079 1048.900)" font-size="100" font-weight="400" fill="#2a2a2a" stroke="#2a2a2a" stroke-width="0.90">c</text>
<text transform="matrix(0.22680 0 0 0.21928 245.169 1048.900)" font-size="100" font-weight="400" fill="#2a2a2a" stroke="#2a2a2a" stroke-width="0.90">o</text>
<text transform="matrix(0.22680 0 0 0.21928 258.586 1048.900)" font-size="100" font-weight="400" fill="#2a2a2a" stroke="#2a2a2a" stroke-width="0.90">n</text>
<text transform="matrix(0.22680 0 0 0.21928 272.003 1048.900)" font-size="100" font-weight="400" fill="#2a2a2a" stroke="#2a2a2a" stroke-width="0.90">n</text>
<text transform="matrix(0.22680 0 0 0.21928 285.424 1048.900)" font-size="100" font-weight="400" fill="#2a2a2a" stroke="#2a2a2a" stroke-width="0.90">e</text>
<text transform="matrix(0.22680 0 0 0.21928 298.816 1048.900)" font-size="100" font-weight="400" fill="#2a2a2a" stroke="#2a2a2a" stroke-width="0.90">c</text>
<text transform="matrix(0.22680 0 0 0.24638 310.710 1048.900)" font-size="100" font-weight="400" fill="#2a2a2a" stroke="#2a2a2a" stroke-width="0.85">t</text>
<text transform="matrix(0.22680 0 0 0.23455 317.366 1048.900)" font-size="100" font-weight="400" fill="#2a2a2a" stroke="#2a2a2a" stroke-width="0.87">i</text>
<text transform="matrix(0.22680 0 0 0.21928 322.969 1048.900)" font-size="100" font-weight="400" fill="#2a2a2a" stroke="#2a2a2a" stroke-width="0.90">o</text>
<text transform="matrix(0.22680 0 0 0.21928 336.387 1048.900)" font-size="100" font-weight="400" fill="#2a2a2a" stroke="#2a2a2a" stroke-width="0.90">n</text>
<text transform="matrix(0.21969 0 0 0.24638 355.970 1048.900)" font-size="100" font-weight="400" fill="#2a2a2a" stroke="#2a2a2a" stroke-width="0.86">t</text>
<text transform="matrix(0.21969 0 0 0.21928 362.614 1048.900)" font-size="100" font-weight="400" fill="#2a2a2a" stroke="#2a2a2a" stroke-width="0.91">y</text>
<text transform="matrix(0.21969 0 0 0.21928 374.356 1048.900)" font-size="100" font-weight="400" fill="#2a2a2a" stroke="#2a2a2a" stroke-width="0.91">p</text>
<text transform="matrix(0.21969 0 0 0.21928 387.335 1048.900)" font-size="100" font-weight="400" fill="#2a2a2a" stroke="#2a2a2a" stroke-width="0.91">e</text>
<text transform="matrix(0.21969 0 0 0.24638 400.136 1048.900)" font-size="100" font-weight="400" fill="#2a2a2a" stroke="#2a2a2a" stroke-width="0.86">:</text>
<text transform="matrix(0.21915 0 0 0.24638 411.923 1048.900)" font-size="100" font-weight="400" fill="#2a2a2a" stroke="#2a2a2a" stroke-width="0.86">3</text>
<text transform="matrix(0.22028 0 0 0.21928 430.868 1048.900)" font-size="100" font-weight="400" fill="#2a2a2a" stroke="#2a2a2a" stroke-width="0.91">p</text>
<text transform="matrix(0.22028 0 0 0.23455 443.886 1048.900)" font-size="100" font-weight="400" fill="#2a2a2a" stroke="#2a2a2a" stroke-width="0.88">h</text>
<text transform="matrix(0.22028 0 0 0.21928 456.945 1048.900)" font-size="100" font-weight="400" fill="#2a2a2a" stroke="#2a2a2a" stroke-width="0.91">a</text>
<text transform="matrix(0.22028 0 0 0.21928 469.907 1048.900)" font-size="100" font-weight="400" fill="#2a2a2a" stroke="#2a2a2a" stroke-width="0.91">s</text>
<text transform="matrix(0.22028 0 0 0.21928 481.666 1048.900)" font-size="100" font-weight="400" fill="#2a2a2a" stroke="#2a2a2a" stroke-width="0.91">e</text>
<text transform="matrix(0.23911 0 0 0.21928 500.724 1048.900)" font-size="100" font-weight="400" fill="#2a2a2a" stroke="#2a2a2a" stroke-width="0.87">c</text>
<text transform="matrix(0.23911 0 0 0.21928 513.469 1048.900)" font-size="100" font-weight="400" fill="#2a2a2a" stroke="#2a2a2a" stroke-width="0.87">u</text>
<text transform="matrix(0.23911 0 0 0.21928 527.482 1048.900)" font-size="100" font-weight="400" fill="#2a2a2a" stroke="#2a2a2a" stroke-width="0.87">r</text>
<text transform="matrix(0.23911 0 0 0.21928 535.951 1048.900)" font-size="100" font-weight="400" fill="#2a2a2a" stroke="#2a2a2a" stroke-width="0.87">r</text>
<text transform="matrix(0.23911 0 0 0.21928 544.555 1048.900)" font-size="100" font-weight="400" fill="#2a2a2a" stroke="#2a2a2a" stroke-width="0.87">e</text>
<text transform="matrix(0.23911 0 0 0.21928 558.704 1048.900)" font-size="100" font-weight="400" fill="#2a2a2a" stroke="#2a2a2a" stroke-width="0.87">n</text>
<text transform="matrix(0.23911 0 0 0.24638 572.644 1048.900)" font-size="100" font-weight="400" fill="#2a2a2a" stroke="#2a2a2a" stroke-width="0.82">t</text>
<text transform="matrix(0.22264 0 0 0.21928 585.498 1048.900)" font-size="100" font-weight="400" fill="#2a2a2a" stroke="#2a2a2a" stroke-width="0.91">a</text>
<text transform="matrix(0.22264 0 0 0.21928 598.637 1048.900)" font-size="100" font-weight="400" fill="#2a2a2a" stroke="#2a2a2a" stroke-width="0.91">n</text>
<text transform="matrix(0.22264 0 0 0.23455 611.791 1048.900)" font-size="100" font-weight="400" fill="#2a2a2a" stroke="#2a2a2a" stroke-width="0.88">d</text>
<text transform="matrix(0.21702 0 0 0.24638 630.632 1048.900)" font-size="100" font-weight="400" fill="#2a2a2a" stroke="#2a2a2a" stroke-width="0.86">3</text>
<text transform="matrix(0.21955 0 0 0.21928 649.073 1048.900)" font-size="100" font-weight="400" fill="#2a2a2a" stroke="#2a2a2a" stroke-width="0.91">p</text>
<text transform="matrix(0.21955 0 0 0.23455 662.047 1048.900)" font-size="100" font-weight="400" fill="#2a2a2a" stroke="#2a2a2a" stroke-width="0.88">h</text>
<text transform="matrix(0.21955 0 0 0.21928 675.064 1048.900)" font-size="100" font-weight="400" fill="#2a2a2a" stroke="#2a2a2a" stroke-width="0.91">a</text>
<text transform="matrix(0.21955 0 0 0.21928 687.982 1048.900)" font-size="100" font-weight="400" fill="#2a2a2a" stroke="#2a2a2a" stroke-width="0.91">s</text>
<text transform="matrix(0.21955 0 0 0.21928 699.703 1048.900)" font-size="100" font-weight="400" fill="#2a2a2a" stroke="#2a2a2a" stroke-width="0.91">e</text>
<text transform="matrix(0.22059 0 0 0.21928 720.290 1048.900)" font-size="100" font-weight="400" fill="#2a2a2a" stroke="#2a2a2a" stroke-width="0.91">v</text>
<text transform="matrix(0.22059 0 0 0.21928 732.062 1048.900)" font-size="100" font-weight="400" fill="#2a2a2a" stroke="#2a2a2a" stroke-width="0.91">o</text>
<text transform="matrix(0.22059 0 0 0.23455 744.876 1048.900)" font-size="100" font-weight="400" fill="#2a2a2a" stroke="#2a2a2a" stroke-width="0.88">l</text>
<text transform="matrix(0.22059 0 0 0.24638 750.136 1048.900)" font-size="100" font-weight="400" fill="#2a2a2a" stroke="#2a2a2a" stroke-width="0.86">t</text>
<text transform="matrix(0.22059 0 0 0.21928 756.878 1048.900)" font-size="100" font-weight="400" fill="#2a2a2a" stroke="#2a2a2a" stroke-width="0.91">a</text>
<text transform="matrix(0.22059 0 0 0.21928 769.878 1048.900)" font-size="100" font-weight="400" fill="#2a2a2a" stroke="#2a2a2a" stroke-width="0.91">g</text>
<text transform="matrix(0.22059 0 0 0.21928 782.950 1048.900)" font-size="100" font-weight="400" fill="#2a2a2a" stroke="#2a2a2a" stroke-width="0.91">e</text>
<text transform="matrix(0.22387 0 0 0.21928 801.493 1048.900)" font-size="100" font-weight="400" fill="#2a2a2a" stroke="#2a2a2a" stroke-width="0.90">a</text>
<text transform="matrix(0.22387 0 0 0.21928 814.704 1048.900)" font-size="100" font-weight="400" fill="#2a2a2a" stroke="#2a2a2a" stroke-width="0.90">n</text>
<text transform="matrix(0.22387 0 0 0.23455 827.930 1048.900)" font-size="100" font-weight="400" fill="#2a2a2a" stroke="#2a2a2a" stroke-width="0.87">d</text>
<text transform="matrix(0.24110 0 0 0.21928 846.733 1048.900)" font-size="100" font-weight="400" fill="#2a2a2a" stroke="#2a2a2a" stroke-width="0.87">n</text>
<text transform="matrix(0.24110 0 0 0.21928 860.996 1048.900)" font-size="100" font-weight="400" fill="#2a2a2a" stroke="#2a2a2a" stroke-width="0.87">e</text>
<text transform="matrix(0.24110 0 0 0.21928 875.259 1048.900)" font-size="100" font-weight="400" fill="#2a2a2a" stroke="#2a2a2a" stroke-width="0.87">u</text>
<text transform="matrix(0.24110 0 0 0.24638 889.319 1048.900)" font-size="100" font-weight="400" fill="#2a2a2a" stroke="#2a2a2a" stroke-width="0.82">t</text>
<text transform="matrix(0.24110 0 0 0.21928 896.518 1048.900)" font-size="100" font-weight="400" fill="#2a2a2a" stroke="#2a2a2a" stroke-width="0.87">r</text>
<text transform="matrix(0.24110 0 0 0.21928 905.227 1048.900)" font-size="100" font-weight="400" fill="#2a2a2a" stroke="#2a2a2a" stroke-width="0.87">a</text>
<text transform="matrix(0.24110 0 0 0.23455 919.198 1048.900)" font-size="100" font-weight="400" fill="#2a2a2a" stroke="#2a2a2a" stroke-width="0.84">l</text>
<text transform="matrix(0.24110 0 0 0.24638 924.940 1048.900)" font-size="100" font-weight="400" fill="#2a2a2a" stroke="#2a2a2a" stroke-width="0.82">.</text>
<text transform="matrix(0.28776 0 0 0.33188 57.698 48.800)" font-size="100" font-weight="400" fill="#2a2a2a" stroke="#2a2a2a" stroke-width="0.00">F</text>
<text transform="matrix(0.33333 0 0 0.31172 75.733 48.800)" font-size="100" font-weight="400" fill="#2a2a2a" stroke="#2a2a2a" stroke-width="0.00">i</text>
<text transform="matrix(0.28667 0 0 0.29159 84.153 48.800)" font-size="100" font-weight="400" fill="#2a2a2a" stroke="#2a2a2a" stroke-width="0.00">g</text>
<text transform="matrix(0.30353 0 0 0.29434 100.927 48.800)" font-size="100" font-weight="400" fill="#2a2a2a" stroke="#2a2a2a" stroke-width="0.00">u</text>
<text transform="matrix(0.41200 0 0 0.28889 117.922 48.800)" font-size="100" font-weight="400" fill="#2a2a2a" stroke="#2a2a2a" stroke-width="0.00">r</text>
<text transform="matrix(0.27957 0 0 0.28889 131.642 48.800)" font-size="100" font-weight="400" fill="#2a2a2a" stroke="#2a2a2a" stroke-width="0.00">e</text>
<text transform="matrix(0.37143 0 0 0.36250 148.329 49.856)" font-size="100" font-weight="400" fill="#2a2a2a" stroke="#2a2a2a" stroke-width="0.00">-</text>
<text transform="matrix(0.42584 0 0 0.44638 943.643 914.800)" font-size="100" font-weight="400" fill="#2a2a2a" stroke="#2a2a2a" stroke-width="0.00">L</text>
<text transform="matrix(0.37684 0 0 0.39444 967.593 914.800)" font-size="100" font-weight="400" fill="#2a2a2a" stroke="#2a2a2a" stroke-width="0.00">o</text>
<text transform="matrix(0.33137 0 0 0.39444 989.609 914.800)" font-size="100" font-weight="400" fill="#2a2a2a" stroke="#2a2a2a" stroke-width="0.00">a</text>
<text transform="matrix(0.37778 0 0 0.42483 1011.889 914.800)" font-size="100" font-weight="400" fill="#2a2a2a" stroke="#2a2a2a" stroke-width="0.00">d</text>
<path d="M169.2 26.0L171.7 26.0L171.7 48.8L169.0 48.8L169.0 29.8L165.4 32.8L164.7 32.0L164.8 29.4Z" fill="#2a2a2a"/>
<path d="M651.79 230.30 L653.90 230.30 L653.90 242.00 L651.44 242.00 L651.44 233.69 L649.57 234.98 L648.99 232.29Z" fill="#2a2a2a"/>
<path d="M387.24 659.00 L389.40 659.00 L389.40 671.00 L386.88 671.00 L386.88 662.48 L384.96 663.80 L384.36 661.04Z" fill="#2a2a2a"/>
<path d="M238.76 659.00L241.04 659.00L241.04 666.92Q241.04 668.72 242.60 668.72L242.60 671.00Q238.76 671.00 238.76 666.92Z" fill="#2a2a2a"/>
<path d="M329.76 659.00L332.04 659.00L332.04 666.92Q332.04 668.72 333.60 668.72L333.60 671.00Q329.76 671.00 329.76 666.92Z" fill="#2a2a2a"/>
<path d="M421.10 659.00L423.38 659.00L423.38 666.92Q423.38 668.72 424.94 668.72L424.94 671.00Q421.10 671.00 421.10 666.92Z" fill="#2a2a2a"/>
<path d="M429.84 659.00 L432.00 659.00 L432.00 671.00 L429.48 671.00 L429.48 662.48 L427.56 663.80 L426.96 661.04Z" fill="#2a2a2a"/>
<path d="M642.68 659.30 L644.80 659.30 L644.80 671.10 L642.32 671.10 L642.32 662.72 L640.43 664.02 L639.84 661.31Z" fill="#2a2a2a"/>
<path d="M76.23 875.06 L78.90 875.06 L78.90 889.90 L75.78 889.90 L75.78 879.36 L73.41 881.00 L72.67 877.58Z" fill="#2a2a2a"/>
<path d="M415.17 828.20 L417.80 828.20 L417.80 842.80 L414.73 842.80 L414.73 832.43 L412.40 834.04 L411.67 830.68Z" fill="#2a2a2a"/>
<path d="M373.93 858.60 L375.90 858.60 L375.90 869.55 L373.60 869.55 L373.60 861.78 L371.85 862.98 L371.30 860.46Z" fill="#2a2a2a"/>
<path d="M383.70 889.40 L385.70 889.40 L385.70 900.50 L383.37 900.50 L383.37 892.62 L381.59 893.84 L381.04 891.29Z" fill="#2a2a2a"/>
<path d="M283.13 893.30 L285.10 893.30 L285.10 904.25 L282.80 904.25 L282.80 896.48 L281.05 897.68 L280.50 895.16Z" fill="#2a2a2a"/>
<path d="M292.90 924.10 L294.90 924.10 L294.90 935.20 L292.57 935.20 L292.57 927.32 L290.79 928.54 L290.24 925.99Z" fill="#2a2a2a"/>
<path d="M192.13 927.80 L194.10 927.80 L194.10 938.75 L191.80 938.75 L191.80 930.98 L190.05 932.18 L189.50 929.66Z" fill="#2a2a2a"/>
<path d="M201.90 958.60 L203.90 958.60 L203.90 969.70 L201.57 969.70 L201.57 961.82 L199.79 963.04 L199.24 960.49Z" fill="#2a2a2a"/>
<path d="M145.99 1031.90 L149.05 1031.90 L149.05 1048.90 L145.48 1048.90 L145.48 1036.83 L142.76 1038.70 L141.91 1034.79Z" fill="#2a2a2a"/>
<rect x="155.2" y="1038.85" width="3.60" height="3.65" fill="#2a2a2a"/>
<rect x="155.2" y="1045.2" width="3.60" height="3.60" fill="#2a2a2a"/>
</svg></body></html>
